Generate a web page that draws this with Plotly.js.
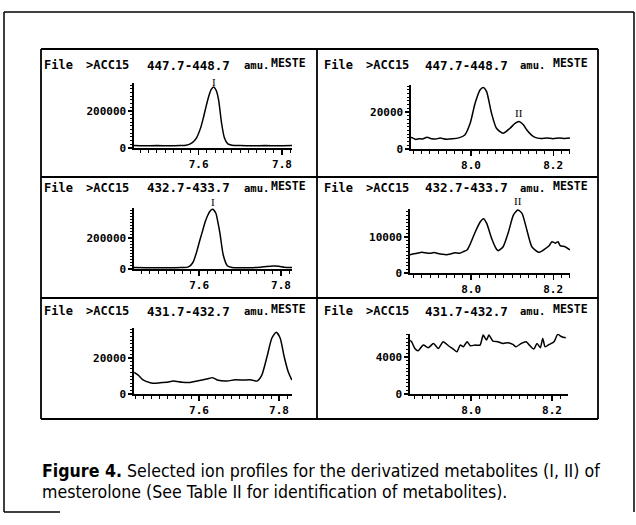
<!DOCTYPE html>
<html><head><meta charset="utf-8">
<script src="https://cdn.plot.ly/plotly-3.0.1.min.js"></script>
<style>html,body{margin:0;padding:0;background:#fff}#chart{width:636px;height:525px}</style>
</head><body><div id="chart"></div>
<script>
// ---- data ----
const ionRanges = ["447.7-448.7","447.7-448.7","432.7-433.7","432.7-433.7","431.7-432.7","431.7-432.7"];
const fileLabel = "File", fileName = ">ACC15", unitLabel = "amu.", sampleLabel = "MESTE";
const peakLabels = ["I","II","I","II",null,null];
const captionBold = "Figure 4.";
const captionLine1 = " Selected ion profiles for the derivatized metabolites (I, II) of";
const captionLine2 = "mesterolone (See Table II for identification of metabolites).";

const p1x = [7.445,7.47,7.50,7.53,7.555,7.57,7.58,7.588,7.595,7.605,7.612,7.618,7.624,7.63,7.636,7.642,7.648,7.655,7.662,7.67,7.68,7.70,7.73,7.76,7.79,7.824];
const p1y = [13000,12000,13000,12000,13000,15000,22000,35000,55000,110000,169000,225000,277000,315000,330000,312000,259000,135000,54000,22000,15000,13000,12000,13000,12000,13000];

const p2x = [7.854,7.859,7.866,7.874,7.882,7.893,7.905,7.914,7.925,7.94,7.955,7.97,7.985,7.998,8.01,8.022,8.03,8.038,8.05,8.062,8.078,8.095,8.107,8.117,8.127,8.136,8.146,8.156,8.17,8.185,8.2,8.215,8.228,8.241];
const p2y = [6200,5900,5200,5600,5400,6300,5500,5400,5900,5300,5500,6000,7600,13900,24700,31900,33300,31000,19300,11200,8500,11200,13800,14800,13200,10300,7800,6300,5700,5900,5600,6000,5700,5900];

const p3x = [7.441,7.47,7.50,7.53,7.555,7.572,7.58,7.586,7.594,7.602,7.609,7.615,7.621,7.627,7.633,7.641,7.646,7.651,7.659,7.669,7.68,7.70,7.73,7.75,7.765,7.78,7.795,7.808,7.827];
const p3y = [9000,8500,8600,8800,9000,12000,25000,47000,110000,187000,250000,305000,345000,374000,385000,359000,300000,230000,90000,21000,10000,8500,8600,12000,16000,19000,18000,11000,9000];

const p4x = [7.851,7.858,7.868,7.88,7.89,7.90,7.91,7.92,7.93,7.94,7.95,7.961,7.972,7.981,7.99,7.998,8.01,8.022,8.03,8.038,8.05,8.062,8.066,8.078,8.091,8.103,8.114,8.124,8.136,8.148,8.165,8.18,8.19,8.197,8.205,8.212,8.217,8.229,8.241];
const p4y = [5100,5300,5500,5750,5600,5500,5700,5400,5200,5100,5300,5600,5500,5950,6400,8100,11400,14200,15100,13800,9600,6600,6200,7300,11400,16100,17500,16600,11900,7300,5750,6700,7600,8700,8300,8700,7600,7300,6400];

const p5x = [7.438,7.448,7.46,7.478,7.49,7.503,7.52,7.536,7.558,7.578,7.598,7.62,7.634,7.648,7.67,7.69,7.71,7.728,7.745,7.757,7.77,7.782,7.793,7.803,7.813,7.823,7.832];
const p5y = [12000,10500,7800,6300,6000,6300,6500,7200,6500,6400,7400,8300,9100,7600,7200,7900,7800,7900,7200,10500,20700,31000,34300,31000,20700,12400,7800];

const p6x = [7.849,7.853,7.861,7.869,7.882,7.894,7.907,7.919,7.931,7.944,7.956,7.965,7.973,7.981,7.99,7.998,8.01,8.022,8.03,8.038,8.044,8.054,8.066,8.079,8.091,8.103,8.111,8.124,8.136,8.144,8.155,8.163,8.171,8.177,8.183,8.193,8.205,8.214,8.224,8.234];
const p6y = [5800,5650,4930,4680,5290,5000,5470,4930,5650,5220,4860,4570,5290,5110,5650,5220,5290,5290,6370,5830,6370,5720,5650,5470,5540,5360,5110,5470,5650,5290,4860,5470,5000,6010,5110,5360,5650,6450,6190,6080];

const seriesX = [p1x,p2x,p3x,p4x,p5x,p6x];
const seriesY = [p1y,p2y,p3y,p4y,p5y,p6y];

// ---- layout geometry (pixels) ----
const W = 636, H = 525;
const fx = px => px / W, fy = py => 1 - py / H;
const panels = [
  {l:134, r:292, t:83,  b:148, xr:[7.445,7.824], ytop:351000, major:200000, col:0, row:0, lshift:5},
  {l:411, r:570, t:85,  b:149, xr:[7.854,8.241], ytop:34600,  major:20000,  col:1, row:0, lshift:9},
  {l:134, r:292, t:208, b:269, xr:[7.441,7.827], ytop:393000, major:200000, col:0, row:1, lshift:7},
  {l:410, r:570, t:209, b:273, xr:[7.851,8.241], ytop:17800,  major:10000,  col:1, row:1, lshift:9},
  {l:134, r:292, t:328, b:394, xr:[7.4375,7.8325], ytop:36700, major:20000, col:0, row:2, lshift:0},
  {l:410, r:568, t:334, b:394, xr:[7.849,8.2395], ytop:6490,  major:4000,   col:1, row:2, lshift:0}
];
const titleRowY = [65, 188, 311];
const titleColX = [
  {file:43, name:85, ion:146, unit:243, samp:270},
  {file:323, name:365, ion:424, unit:519, samp:552}
];

const monoFont = {family:"DejaVu Sans Mono, Liberation Mono, monospace", size:12, color:"#000", weight:"bold"};
const tickFont = {family:"DejaVu Sans Mono, Liberation Mono, monospace", size:11, color:"#000", weight:"bold"};

const data = [];
const layout = {
  width: W, height: H, autosize:false,
  margin:{l:0,r:0,t:0,b:0,pad:0},
  paper_bgcolor:"#fff", plot_bgcolor:"rgba(0,0,0,0)",
  showlegend:false,
  annotations:[], shapes:[]
};

panels.forEach((p, i) => {
  const n = i + 1;
  const xa = n === 1 ? "x" : "x" + n, ya = n === 1 ? "y" : "y" + n;
  data.push({
    x: seriesX[i], y: seriesY[i], xaxis: xa, yaxis: ya,
    type:"scatter", mode:"lines", line:{color:"#000", width:1.5, shape:"spline", smoothing:0.6},
    hoverinfo:"skip", cliponaxis:false
  });
  layout[n === 1 ? "xaxis" : "xaxis" + n] = {
    domain:[fx(p.l), fx(p.r)], range:p.xr, anchor:ya,
    showline:true, linecolor:"#000", linewidth:1.6, mirror:false,
    showgrid:false, zeroline:false,
    ticks:"outside", ticklen:5, tickwidth:1.3, tickcolor:"#000",
    tick0:0, dtick:0.2, tickformat:".1f",
    minor:{dtick:0.02, ticks:"outside", ticklen:3, tickwidth:1, tickcolor:"#000", showgrid:false},
    tickfont:tickFont, fixedrange:true
  };
  layout[n === 1 ? "yaxis" : "yaxis" + n] = {
    domain:[fy(p.b), fy(p.t)], range:[0, p.ytop], anchor:xa,
    showline:true, linecolor:"#000", linewidth:1.6,
    showgrid:false, zeroline:false,
    ticks:"outside", ticklen:4, tickwidth:1.3, tickcolor:"#000",
    tick0:0, dtick:p.major, tickformat:"d",
    minor:{dtick:p.major/10, ticks:"outside", ticklen:2.5, tickwidth:1, tickcolor:"#000", showgrid:false},
    tickfont:tickFont, fixedrange:true
  };
  // panel title
  const ty = fy(titleRowY[p.row]);
  const tc = titleColX[p.col];
  const parts = [[fileLabel, tc.file, 12], [fileName, tc.name, 12], [ionRanges[i], tc.ion, 12.5], [unitLabel, tc.unit, 10.5]];
  parts.forEach(([txt, px, sz]) => layout.annotations.push({
    text:txt, xref:"paper", yref:"paper", x:fx(px), y:ty, xanchor:"left", yanchor:"middle",
    showarrow:false, font:Object.assign({}, monoFont, {size:sz}), borderpad:0
  }));
  layout.annotations.push({
    text:sampleLabel, xref:"paper", yref:"paper", x:fx(tc.samp), y:ty, yshift:2, xanchor:"left", yanchor:"middle",
    showarrow:false, font:Object.assign({}, monoFont, {size:11.5}), borderpad:0
  });
  // peak label
  if (peakLabels[i]) {
    const ys = seriesY[i];
    let k = 0;
    ys.forEach((v, j) => { if (v > ys[k]) k = j; });
    if (i === 1) { // labelled peak is the second, later maximum
      let mins = k; while (mins + 1 < ys.length && ys[mins + 1] < ys[mins]) mins++;
      let k2 = mins; for (let j = mins; j < ys.length; j++) if (ys[j] > ys[k2]) k2 = j;
      k = k2;
    }
    layout.annotations.push({
      text:peakLabels[i], xref:xa, yref:ya, x:seriesX[i][k], y:ys[k], xanchor:"center", yanchor:"middle",
      yshift:p.lshift, showarrow:false, borderpad:0,
      font:{family:"Liberation Serif, DejaVu Serif, serif", size:11, color:"#000"}
    });
  }
});

// frames
const L = "#000";
function seg(x0, y0, x1, y1, w) {
  layout.shapes.push({type:"line", xref:"paper", yref:"paper", x0:fx(x0), y0:fy(y0), x1:fx(x1), y1:fy(y1), line:{color:L, width:w}});
}
// outer frame
seg(4, 12, 634, 12, 1.5);
seg(4, 12, 4, 512, 1.5);
seg(634, 12, 634, 512, 1.5);
seg(4, 512, 60, 512, 1.5);
// inner grid
seg(41, 49, 598, 49, 1.8);
seg(41, 419, 598, 419, 1.8);
seg(41, 49, 41, 419, 1.8);
seg(598, 49, 598, 419, 1.8);
seg(317, 49, 317, 419, 1.8);
seg(41, 177, 598, 177, 1.8);
seg(41, 298, 598, 298, 1.8);

// caption
const capFont = {family:"Liberation Sans Narrow, Arial Narrow, DejaVu Sans Condensed, sans-serif", size:17.6, color:"#000"};
layout.annotations.push({
  text:"<b>" + captionBold + "</b>" + captionLine1, xref:"paper", yref:"paper", x:fx(40), y:fy(471),
  xanchor:"left", yanchor:"middle", showarrow:false, font:capFont, align:"left"
});
layout.annotations.push({
  text:captionLine2, xref:"paper", yref:"paper", x:fx(40), y:fy(492),
  xanchor:"left", yanchor:"middle", showarrow:false, font:capFont, align:"left"
});

Plotly.newPlot("chart", data, layout, {displayModeBar:false, staticPlot:true});
</script>
</body></html>
